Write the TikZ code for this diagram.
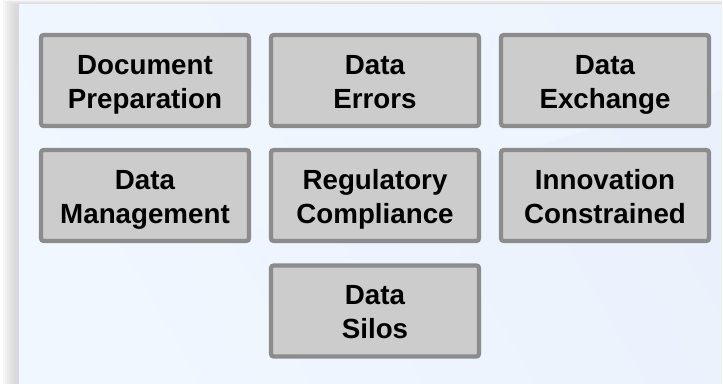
\documentclass[tikz,border=0pt]{standalone}
\usepackage{fontspec}
\setmainfont{Liberation Sans}
\definecolor{panelA}{HTML}{F0F7FF}
\definecolor{panelB}{HTML}{EAF1FC}
\definecolor{boxfill}{HTML}{CCCCCC}
\definecolor{boxline}{HTML}{8C8C8C}
\newcommand{\twolines}[2]{\rule{0pt}{23.85pt}#1\\\strut #2}
\tikzset{
  issue/.style={draw=boxline, line width=3.2pt, fill=boxfill, rounded corners=2pt,
    minimum width=208*0.75pt, minimum height=91*0.75pt, inner sep=0pt,
    align=center, font=\fontsize{20.8pt}{25.5pt}\selectfont\bfseries, text=black},
}
\begin{document}
\begin{tikzpicture}[x=0.75pt,y=-0.75pt]
\useasboundingbox (0,0) rectangle (723,384);
\fill[white] (0,0) rectangle (723,384);
% shadow
\foreach \i/\o in {1/0.02,2/0.03,3/0.04,4/0.05,5/0.06,6/0.07,7/0.08,8/0.09} {
  \fill[black, opacity=\o*0.35] (19-\i*2,5-\i*0.6) rectangle (722,384);
}
% panel
\shade[left color=panelA, right color=panelB, shading angle=120] (19,5) rectangle (722,384);
\fill[panelA, opacity=0.6] (19,5) -- (722,5) -- (722,90) -- (19,300) -- cycle;
% boxes
\node[issue] (docprep) at (145,80.5) {\twolines{Document}{Preparation}};
\node[issue] (errors) at (375,80.5) {\twolines{Data}{Errors}};
\node[issue] (exchange) at (605,80.5) {\twolines{Data}{Exchange}};
\node[issue] (mgmt) at (145,195.5) {\twolines{Data}{Management}};
\node[issue] (reg) at (375,195.5) {\twolines{Regulatory}{Compliance}};
\node[issue] (innov) at (605,195.5) {\twolines{Innovation}{Constrained}};
\node[issue] (silos) at (375,311) {\twolines{Data}{Silos}};
\end{tikzpicture}
\end{document}
